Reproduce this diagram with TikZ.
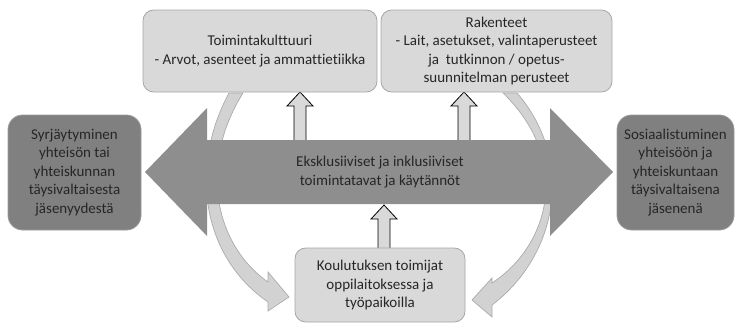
\documentclass[tikz,border=0pt]{standalone}
\usepackage{fontspec}
\setmainfont[Ligatures=NoCommon]{Carlito}

\definecolor{boxfill}{HTML}{D9D9D9}
\definecolor{boxline}{HTML}{A6A6A6}
\definecolor{darkfill}{HTML}{808080}
\definecolor{darkline}{HTML}{9C9C9C}
\definecolor{bigfill}{HTML}{8E8E8E}
\definecolor{curvefill}{HTML}{D2D2D2}
\definecolor{curveline}{HTML}{A9A9A9}
\definecolor{txt}{HTML}{262626}

\tikzset{
  lightbox/.style={draw=boxline, fill=boxfill, line width=0.6pt, rounded corners=8pt,
    align=center, inner sep=0pt, text=txt},
  darkbox/.style={draw=darkline, fill=darkfill, line width=0.6pt, rounded corners=11pt,
    align=center, inner sep=0pt, text=txt},
  curvearr/.style={fill=curvefill, draw=curveline, line width=0.5pt},
  blockup/.style={fill=boxfill, draw=black, line width=0.6pt},
}

% block arrow pointing up: x, y of foot, y of tip
\newcommand\upblock[3]{%
  \draw[blockup] (#1-6,#2) -- (#1-6,#3+14) -- (#1-13,#3+14) -- (#1,#3)
    -- (#1+13,#3+14) -- (#1+6,#3+14) -- (#1+6,#2) -- cycle;}

\begin{document}
\begin{tikzpicture}[x=0.75pt,y=-0.75pt,font=\fontsize{11.25}{13.9}\selectfont]
\useasboundingbox (0,0) rectangle (738,326);

% curved arrows behind everything
\filldraw[curvearr] (229,93) .. controls (190,165) and (200,255) .. (268,302)
  -- (268,311) -- (289,297) -- (268,272) -- (268,282)
  .. controls (215,245) and (198,165) .. (243,93) -- cycle;
\filldraw[curvearr] (517,93) .. controls (575,160) and (558,255) .. (492,305)
  -- (492,317) -- (472,300) -- (492,278) -- (492,283)
  .. controls (550,245) and (572,160) .. (503,93) -- cycle;

% small up arrows
\upblock{300}{150}{92}
\upblock{464}{150}{92}
\upblock{384}{255}{205}

% big double arrow
\fill[bigfill] (145,172) -- (207,108) -- (207,140) -- (550,140) -- (550,108)
  -- (613,172) -- (550,236) -- (550,204) -- (207,204) -- (207,236) -- cycle;
\node[align=center, text=txt] (kaytannot) at (380,172)
  {Eksklusiiviset ja inklusiiviset\\toimintatavat ja käytännöt};

% boxes
\node[lightbox, minimum width=175.5pt, minimum height=61.5pt] (kulttuuri) at (260,51)
  {Toimintakulttuuri\\- Arvot, asenteet ja ammattietiikka};
\node[lightbox, minimum width=173.25pt, minimum height=61.5pt] (rakenteet) at (496.5,51)
  {Rakenteet\\- Lait, asetukset, valintaperusteet\\ja~ tutkinnon / opetus-\\suunnitelman perusteet};
\node[lightbox, minimum width=127.5pt, minimum height=55.5pt] (toimijat) at (380,285)
  {Koulutuksen toimijat\\oppilaitoksessa ja\\työpaikoilla};
\node[darkbox, minimum width=99.75pt, minimum height=86.25pt] (syrjaytyminen) at (74.5,172.5)
  {Syrjäytyminen\\yhteisön tai\\yhteiskunnan\\täysivaltaisesta\\jäsenyydestä};
\node[darkbox, minimum width=87.75pt, minimum height=86.25pt] (sosiaalistuminen) at (675.5,172.5)
  {Sosiaalistuminen\\yhteisöön ja\\yhteiskuntaan\\täysivaltaisena\\jäsenenä};

\end{tikzpicture}
\end{document}
